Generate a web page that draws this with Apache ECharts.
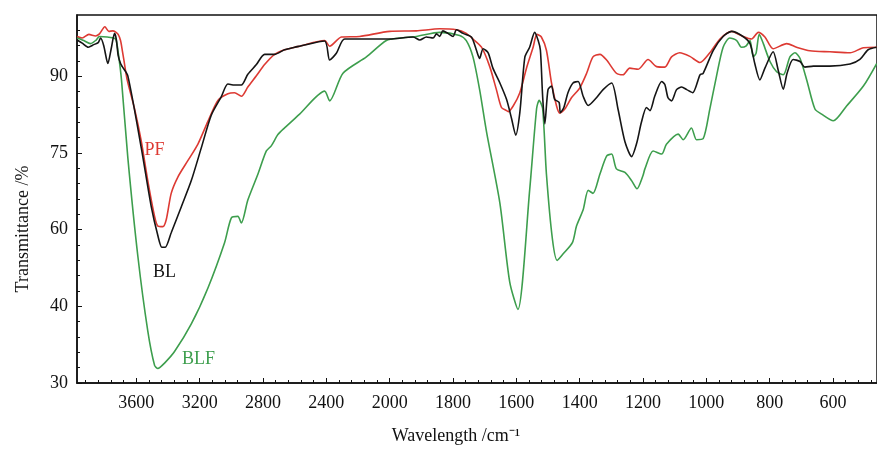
<!DOCTYPE html>
<html>
<head>
<meta charset="utf-8">
<script src="https://cdn.jsdelivr.net/npm/echarts@6/dist/echarts.min.js"></script>
<style>
html,body{margin:0;padding:0;background:#fff}
#main{width:877px;height:450px}
</style>
</head>
<body>
<div id="main"></div>
<script>
// 横轴刻度（cm-1），2000 以下每格 200，以上每格 400
var waveTicks = [3600, 3200, 2800, 2400, 2000, 1800, 1600, 1400, 1200, 1000, 800, 600];
// 纵轴刻度，等距排列
var transTicks = [30, 40, 60, 75, 90];
var waveLeft = 3975, waveRight = 461;

// [波数, 透过率]
var pfData = [[3974,97.8],[3942,97.5],[3900,98.2],[3858,97.9],[3833,98.3],[3799,99.7],[3774,98.8],[3749,98.9],[3732,98.7],[3715,98.2],[3700,97.0],[3689,95.1],[3679,93.2],[3658,89.3],[3612,83.7],[3569,77.3],[3528,69.6],[3485,62.6],[3464,60.7],[3433,60.6],[3411,62.0],[3380,67.1],[3338,70.3],[3275,73.5],[3212,76.7],[3148,81.2],[3085,85.3],[3022,86.6],[2980,86.8],[2937,86.1],[2896,87.9],[2842,90.1],[2790,92.3],[2727,94.3],[2664,95.2],[2600,95.7],[2569,95.9],[2411,97.0],[2379,95.9],[2305,97.7],[2190,97.8],[2000,98.8],[1916,98.9],[1842,99.3],[1789,99.1],[1758,98.4],[1737,97.3],[1710,95.7],[1684,91.9],[1663,87.4],[1647,83.9],[1631,83.3],[1626,83.1],[1610,84.2],[1589,86.8],[1568,91.6],[1547,95.7],[1535,98.2],[1521,97.7],[1505,95.1],[1489,88.7],[1473,84.2],[1463,82.8],[1447,83.6],[1426,85.8],[1400,87.7],[1378,90.6],[1358,93.8],[1336,94.3],[1315,93.2],[1284,90.6],[1263,90.3],[1242,91.6],[1215,91.4],[1184,93.3],[1157,91.9],[1131,91.8],[1110,93.8],[1084,94.6],[1052,93.9],[1020,92.7],[989,94.6],[957,97.3],[920,98.8],[884,97.8],[857,97.3],[836,98.6],[815,97.7],[789,95.4],[746,96.4],[715,95.7],[673,95.0],[610,94.8],[546,94.6],[504,95.6],[462,95.7]];

var blData = [[3974,97.1],[3942,96.5],[3904,95.7],[3869,96.2],[3841,96.6],[3826,97.5],[3806,96.0],[3780,92.5],[3759,95.4],[3738,98.4],[3727,97.3],[3715,94.1],[3700,92.5],[3689,91.9],[3654,90.1],[3569,76.0],[3506,64.5],[3464,58.4],[3439,55.4],[3418,55.4],[3380,59.2],[3316,64.5],[3253,69.6],[3190,76.0],[3127,82.4],[3064,86.0],[3022,88.5],[2980,88.3],[2937,88.3],[2896,90.4],[2842,92.3],[2790,94.3],[2727,94.3],[2664,95.2],[2600,95.7],[2569,95.9],[2411,96.9],[2379,93.2],[2337,94.5],[2284,97.3],[2000,97.3],[1926,97.7],[1905,97.1],[1884,97.7],[1863,97.5],[1852,98.3],[1842,97.8],[1832,98.9],[1816,98.4],[1800,97.8],[1789,99.1],[1768,98.4],[1742,97.7],[1726,95.1],[1716,93.5],[1705,95.4],[1689,94.6],[1674,91.6],[1652,88.7],[1631,85.5],[1615,81.7],[1602,78.5],[1589,82.9],[1573,93.8],[1558,95.7],[1542,98.6],[1531,97.0],[1524,95.1],[1517,86.1],[1510,80.7],[1500,87.4],[1489,88.1],[1479,85.5],[1465,84.9],[1461,82.9],[1450,83.9],[1437,86.8],[1421,88.7],[1405,89.0],[1389,86.1],[1373,84.3],[1347,85.8],[1326,87.4],[1299,88.7],[1279,83.6],[1257,77.2],[1236,74.3],[1220,76.9],[1205,81.0],[1189,83.9],[1178,83.3],[1163,86.1],[1141,89.0],[1131,88.4],[1121,85.8],[1110,85.2],[1094,87.4],[1078,87.9],[1062,87.4],[1043,86.8],[1020,90.3],[1010,90.6],[978,95.1],[947,97.8],[920,98.8],[884,97.8],[862,96.4],[847,92.5],[831,89.3],[815,91.6],[789,94.8],[773,91.2],[757,87.5],[745,90.6],[726,93.3],[704,92.9],[689,91.8],[662,92.0],[610,92.0],[546,92.4],[515,93.3],[489,95.2],[462,95.7]];

var blfData = [[3974,97.5],[3932,97.0],[3890,96.4],[3854,97.1],[3833,97.8],[3742,97.5],[3727,97.0],[3711,93.8],[3694,89.3],[3654,74.1],[3591,53.2],[3528,36.8],[3485,32.3],[3464,31.9],[3422,32.6],[3359,34.1],[3253,37.7],[3148,44.8],[3043,56.6],[3000,62.3],[2959,62.6],[2937,61.3],[2896,65.8],[2832,70.9],[2779,75.4],[2748,76.4],[2706,78.6],[2664,79.9],[2569,82.6],[2411,87.1],[2379,85.2],[2295,90.6],[2147,93.8],[2021,97.0],[1968,97.5],[1916,97.8],[1842,98.6],[1779,98.0],[1758,97.0],[1737,93.8],[1716,87.4],[1694,79.1],[1652,65.2],[1621,46.4],[1595,39.6],[1558,67.7],[1536,83.7],[1528,85.3],[1517,83.7],[1505,70.9],[1486,57.5],[1471,52.0],[1452,53.7],[1423,56.6],[1410,60.7],[1389,63.9],[1373,67.7],[1358,67.1],[1336,70.9],[1315,74.4],[1299,74.8],[1284,71.9],[1257,71.2],[1236,69.6],[1219,68.0],[1200,70.6],[1194,71.9],[1168,75.4],[1141,74.8],[1126,76.7],[1089,78.7],[1073,77.6],[1047,79.9],[1031,77.6],[1010,77.8],[989,83.6],[968,90.0],[947,95.7],[926,97.5],[904,97.0],[889,95.7],[875,95.9],[862,97.0],[852,93.8],[843,94.5],[833,98.2],[820,96.4],[799,92.9],[778,90.9],[757,90.3],[736,93.8],[720,94.6],[704,93.5],[683,89.3],[657,83.6],[636,82.6],[599,81.3],[557,84.2],[504,88.1],[462,92.5]];

// 曲线标注位置 [波数, 透过率]
var pfLabel = [3485, 76.4];
var blLabel = [3422, 49.9];
var blfLabel = [3207, 33.6];

// 横轴分段：2000 以上 400/格，以下 200/格
function wavePos(w) {
	return w >= 2000 ? (4000 - w) / 400 : 5 + (2000 - w) / 200;
}
function posWave(p) {
	return p <= 5 ? 4000 - 400 * p : 2000 - 200 * (p - 5);
}
// 纵轴分段：刻度等距
function transPos(t) {
	if (t <= 40) return (t - 30) / 10;
	if (t <= 60) return 1 + (t - 40) / 20;
	if (t <= 75) return 2 + (t - 60) / 15;
	return 3 + (t - 75) / 15;
}
function toPoints(arr) {
	return arr.map(function (d) { return [wavePos(d[0]), transPos(d[1])]; });
}

var xMin = wavePos(waveLeft), xMax = wavePos(waveRight);
var yMax = 4.8;
var xMajor = waveTicks.map(wavePos);
var xMinor = [], yMinor = [];
for (var i = 1; i * 0.2 < xMax; i++) {
	if (i % 5 !== 0) xMinor.push(i * 0.2);
}
for (var j = 1; j * 0.2 < yMax; j++) {
	if (j % 5 !== 0) yMinor.push(j * 0.2);
}

var font = 'Liberation Serif';
var colors = {PF: '#dd3a33', BL: '#151515', BLF: '#3d9e4d'};

function lineSeries(name, data, labelAt) {
	return {
		name: name,
		type: 'line',
		data: toPoints(data),
		showSymbol: false,
		smooth: 0.25,
		lineStyle: {color: colors[name], width: 1.6},
		z: name === 'BL' ? 3 : 2,
		markPoint: {
			symbol: 'circle',
			symbolSize: 0,
			label: {show: true, position: 'inside', offset: [0, 4], formatter: name, color: colors[name], fontFamily: font, fontSize: 18},
			data: [{coord: [wavePos(labelAt[0]), transPos(labelAt[1])]}]
		}
	};
}

var myChart = echarts.init(document.getElementById('main'));
var option = {
	animation: false,
	grid: {left: 77, right: -1, top: 15, bottom: 60, show: true, borderColor: '#111', borderWidth: 1.5},
	xAxis: [{
		type: 'value', min: xMin, max: xMax,
		name: 'Wavelength /cm⁻¹', nameLocation: 'middle', nameGap: 44,
		nameTextStyle: {fontFamily: font, fontSize: 18, color: '#111', padding: [0, 42, 0, 0]},
		axisLine: {lineStyle: {color: '#111', width: 1.5}},
		axisTick: {inside: true, length: 5, customValues: xMajor, lineStyle: {color: '#111'}},
		axisLabel: {customValues: xMajor, margin: 11, fontFamily: font, fontSize: 18, color: '#111',
			formatter: function (v) { return Math.round(posWave(v)); }},
		splitLine: {show: false}
	}, {
		type: 'value', min: xMin, max: xMax, position: 'bottom',
		axisLine: {show: false},
		axisTick: {inside: true, length: 3, customValues: xMinor, lineStyle: {color: '#111'}},
		axisLabel: {show: false},
		splitLine: {show: false}
	}],
	yAxis: [{
		type: 'value', min: 0, max: yMax,
		name: 'Transmittance /%', nameLocation: 'middle', nameGap: 45,
		nameTextStyle: {fontFamily: font, fontSize: 18, color: '#111', padding: [0, 60, 0, 0]},
		axisLine: {show: true, lineStyle: {color: '#111', width: 1.5}},
		axisTick: {show: true, inside: true, length: 5, customValues: [0, 1, 2, 3, 4], lineStyle: {color: '#111'}},
		axisLabel: {customValues: [0, 1, 2, 3, 4], margin: 9, fontFamily: font, fontSize: 18, color: '#111',
			formatter: function (v) { return transTicks[Math.round(v)]; }},
		splitLine: {show: false}
	}, {
		type: 'value', min: 0, max: yMax, position: 'left',
		axisLine: {show: false},
		axisTick: {show: true, inside: true, length: 3, customValues: yMinor, lineStyle: {color: '#111'}},
		axisLabel: {show: false},
		splitLine: {show: false}
	}],
	series: [
		lineSeries('PF', pfData, pfLabel),
		lineSeries('BLF', blfData, blfLabel),
		lineSeries('BL', blData, blLabel)
	]
};
myChart.setOption(option, true);
</script>
</body>
</html>
